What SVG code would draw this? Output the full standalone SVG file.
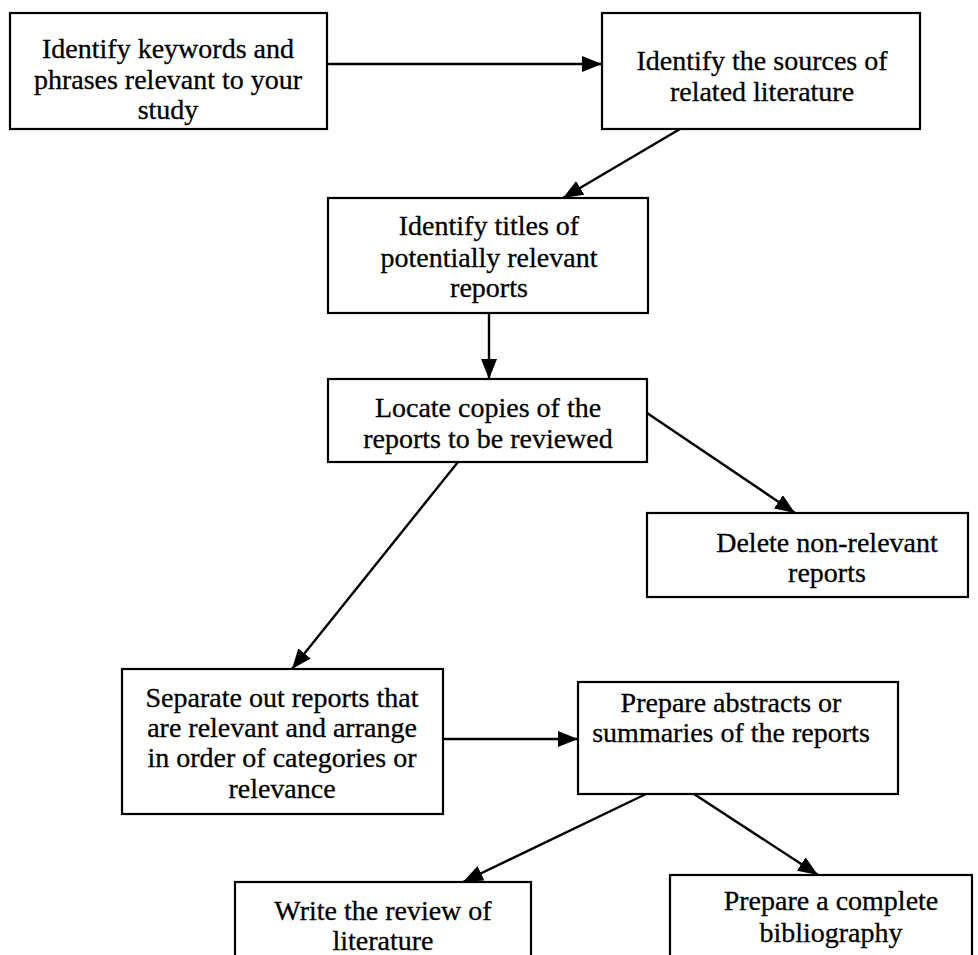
<svg xmlns="http://www.w3.org/2000/svg" width="978" height="955" viewBox="0 0 978 955">
<defs>
<style>
.box{fill:#fff;stroke:#000;stroke-width:2.2}
.t{font-family:"Liberation Serif","Times New Roman",serif;font-size:28px;fill:#000;stroke:#000;stroke-width:0.3;text-anchor:middle}
.c{stroke:#000;stroke-width:2.4;fill:none;marker-end:url(#ah)}
</style>
<marker id="ah" viewBox="0 0 10 10" refX="10" refY="5" markerWidth="20" markerHeight="16" markerUnits="userSpaceOnUse" orient="auto" preserveAspectRatio="none">
<path d="M0,0 L10,5 L0,10 z" fill="#000"/>
</marker>
</defs>
<rect width="978" height="955" fill="#fff"/>
<g id="connectors">
<line class="c" x1="327" y1="64" x2="602" y2="64"/>
<line class="c" x1="680" y1="129" x2="563" y2="198"/>
<line class="c" x1="489" y1="313" x2="489" y2="379"/>
<line class="c" x1="647" y1="413" x2="795" y2="513"/>
<line class="c" x1="458" y1="462" x2="292" y2="669"/>
<line class="c" x1="443" y1="739" x2="578" y2="739"/>
<line class="c" x1="646" y1="794" x2="463" y2="882"/>
<line class="c" x1="694" y1="794" x2="818" y2="875"/>
</g>
<g id="n1">
<rect class="box" x="10" y="13" width="317" height="116"/>
<text class="t" x="168" y="58">Identify keywords and</text>
<text class="t" x="168" y="89">phrases relevant to your</text>
<text class="t" x="168" y="119">study</text>
</g>
<g id="n2">
<rect class="box" x="602" y="13" width="318" height="116"/>
<text class="t" x="762" y="70">Identify the sources of</text>
<text class="t" x="762" y="101">related literature</text>
</g>
<g id="n3">
<rect class="box" x="328" y="198" width="320" height="115"/>
<text class="t" x="489" y="235">Identify titles of</text>
<text class="t" x="489" y="267">potentially relevant</text>
<text class="t" x="489" y="297">reports</text>
</g>
<g id="n4">
<rect class="box" x="328" y="379" width="319" height="83"/>
<text class="t" x="488" y="417">Locate copies of the</text>
<text class="t" x="488" y="448">reports to be reviewed</text>
</g>
<g id="n5">
<rect class="box" x="647" y="513" width="321" height="84"/>
<text class="t" x="827" y="552">Delete non-relevant</text>
<text class="t" x="827" y="582">reports</text>
</g>
<g id="n6">
<rect class="box" x="122" y="669" width="321" height="145"/>
<text class="t" x="282" y="707">Separate out reports that</text>
<text class="t" x="282" y="737">are relevant and arrange</text>
<text class="t" x="282" y="767">in order of categories or</text>
<text class="t" x="282" y="798">relevance</text>
</g>
<g id="n7">
<rect class="box" x="578" y="682" width="320" height="112"/>
<text class="t" x="731" y="712">Prepare abstracts or</text>
<text class="t" x="731" y="742">summaries of the reports</text>
</g>
<g id="n8">
<rect class="box" x="235" y="882" width="296" height="90"/>
<text class="t" x="383" y="920">Write the review of</text>
<text class="t" x="383" y="950">literature</text>
</g>
<g id="n9">
<rect class="box" x="670" y="875" width="302" height="100"/>
<text class="t" x="831" y="910">Prepare a complete</text>
<text class="t" x="831" y="942">bibliography</text>
</g>
</svg>
